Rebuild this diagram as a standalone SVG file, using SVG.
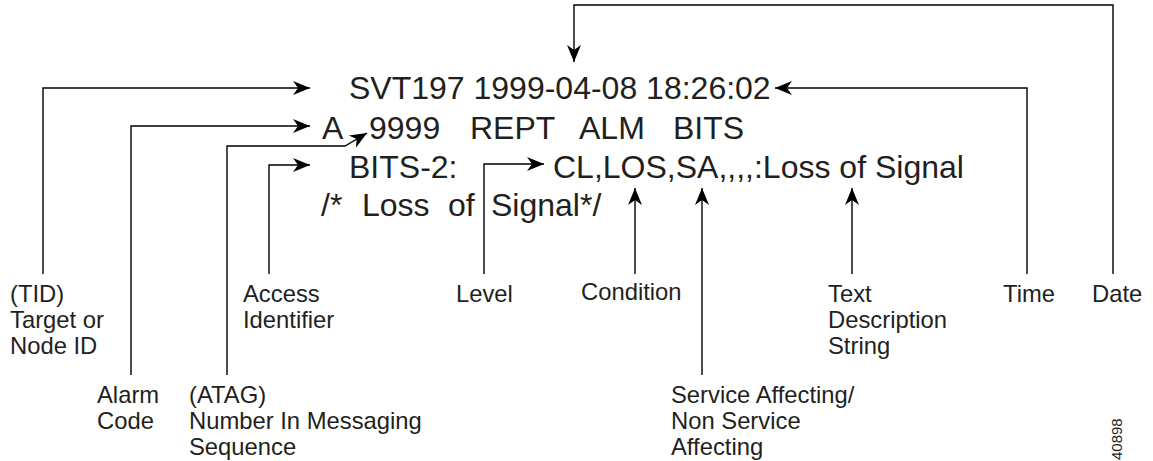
<svg xmlns="http://www.w3.org/2000/svg" width="1153" height="461" viewBox="0 0 1153 461">
<style>
.m{font-family:"Liberation Sans",Arial,sans-serif;font-size:32px;fill:#231f20}
.l{font-family:"Liberation Sans",Arial,sans-serif;font-size:23.8px;fill:#231f20}
.c{fill:none;stroke:#000;stroke-width:1.4;marker-end:url(#ah)}
</style>
<defs>
<marker id="ah" markerUnits="userSpaceOnUse" markerWidth="20" markerHeight="16" viewBox="-18 -8 19 16" refX="0" refY="0" orient="auto">
<path d="M0,0 L-17,-7 L-12,0 L-17,7 Z" fill="#000"/>
</marker>
</defs>
<rect width="1153" height="461" fill="#fff"/>
<g id="message">
<text class="m" x="349" y="99">SVT197 1999-04-08 18:26:02</text>
<text class="m" x="322" y="139">A</text>
<text class="m" x="369" y="139">9999</text>
<text class="m" x="470" y="139">REPT</text>
<text class="m" x="579" y="139">ALM</text>
<text class="m" x="673" y="139">BITS</text>
<text class="m" x="349" y="178">BITS-2:</text>
<text class="m" x="553" y="178">CL,LOS,SA,,,,:Loss of Signal</text>
<text class="m" x="321" y="216">/*</text>
<text class="m" x="362" y="216">Loss</text>
<text class="m" x="448" y="216">of</text>
<text class="m" x="491" y="216">Signal*/</text>
</g>
<g id="connectors">
<path class="c" d="M43,274 V88 H310"/>
<path class="c" d="M131,375 V126 H310"/>
<path class="c" d="M227,375 V146 H345 L367,133"/>
<path class="c" d="M269,274 V165 H310"/>
<path class="c" d="M484,274 V164 H544"/>
<path class="c" d="M635,274 V188"/>
<path class="c" d="M702,375 V188"/>
<path class="c" d="M852,274 V188"/>
<path class="c" d="M1027,274 V88 H775"/>
<path class="c" d="M1113,274 V5 H574 V62"/>
</g>
<g id="tid"><text class="l" x="10" y="302">(TID)</text><text class="l" x="10" y="328">Target or</text><text class="l" x="10" y="354">Node ID</text></g>
<g id="alarm"><text class="l" x="97" y="403">Alarm</text><text class="l" x="97" y="429">Code</text></g>
<g id="atag"><text class="l" x="189" y="403">(ATAG)</text><text class="l" x="189" y="429">Number In Messaging</text><text class="l" x="189" y="455">Sequence</text></g>
<g id="access"><text class="l" x="243" y="302">Access</text><text class="l" x="243" y="328">Identifier</text></g>
<g id="level"><text class="l" x="456" y="302">Level</text></g>
<g id="condition"><text class="l" x="581" y="300">Condition</text></g>
<g id="service"><text class="l" x="671" y="403">Service Affecting/</text><text class="l" x="671" y="429">Non Service</text><text class="l" x="671" y="455">Affecting</text></g>
<g id="textdesc"><text class="l" x="828" y="302">Text</text><text class="l" x="828" y="328">Description</text><text class="l" x="828" y="354">String</text></g>
<g id="time"><text class="l" x="1003" y="302">Time</text></g>
<g id="date"><text class="l" x="1092" y="302">Date</text></g>
<text transform="translate(1122,460) rotate(-90)" style="font-family:'Liberation Sans',Arial,sans-serif;font-size:15px;fill:#231f20">40898</text>
</svg>
